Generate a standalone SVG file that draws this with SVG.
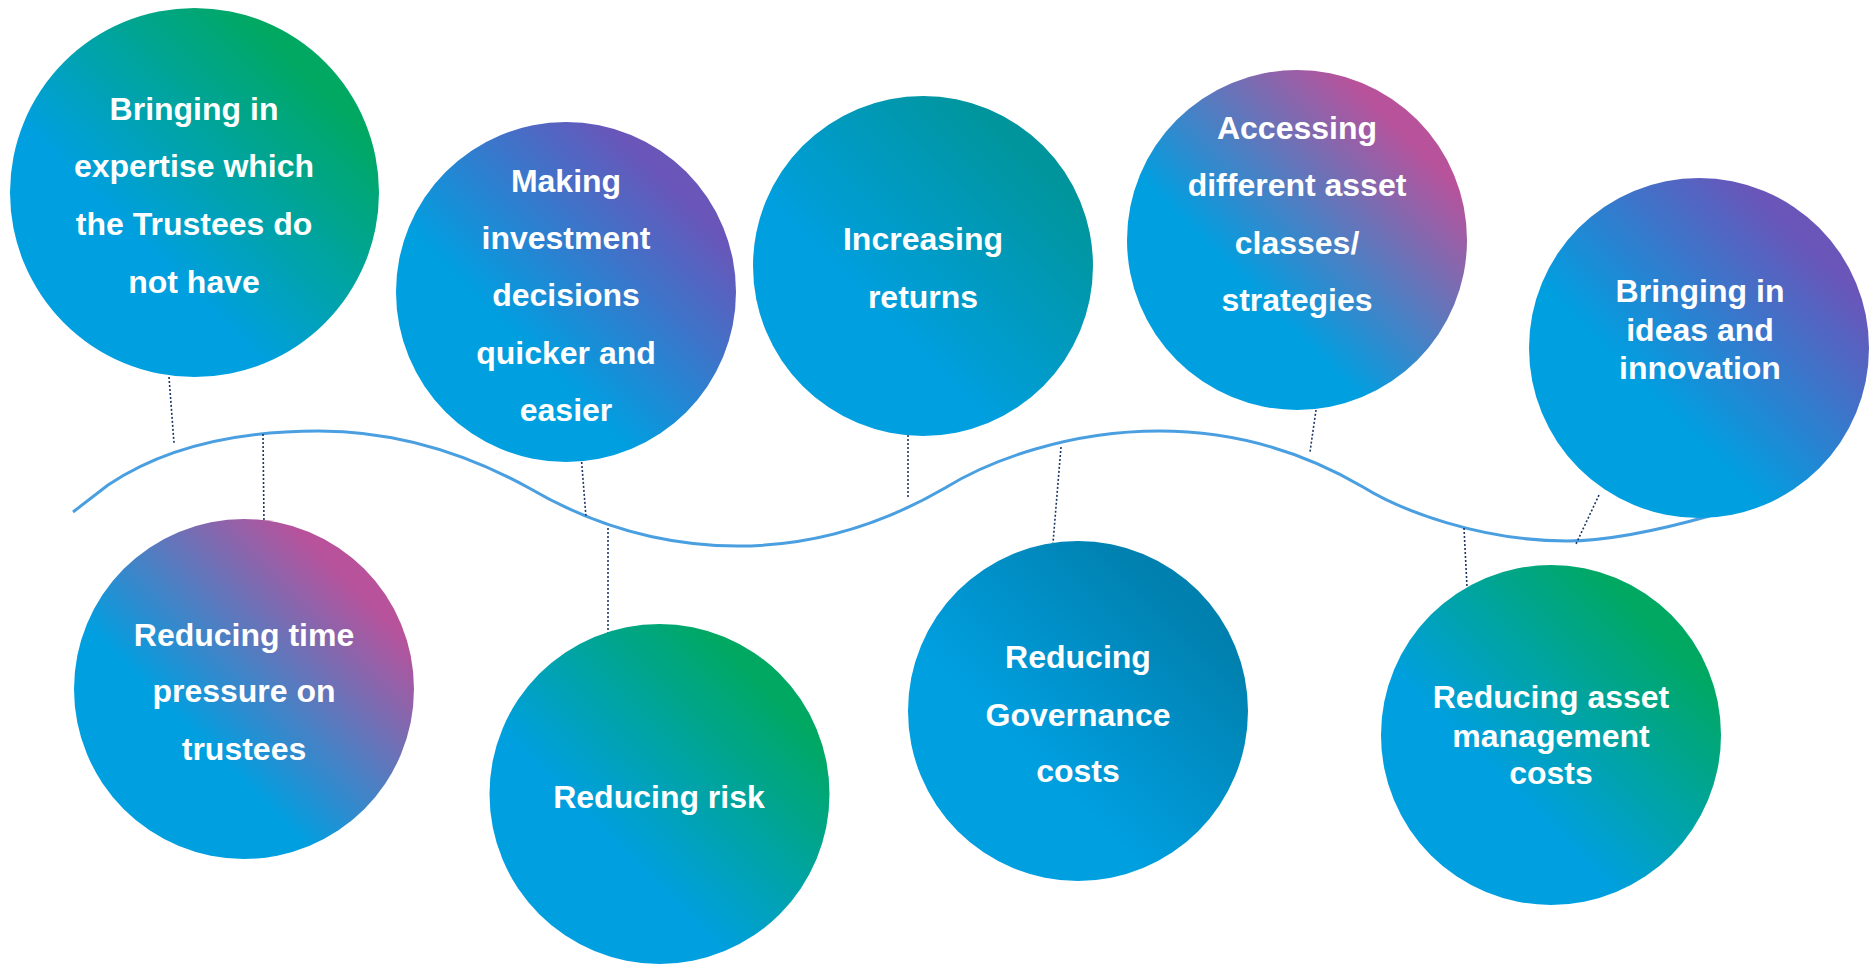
<svg xmlns="http://www.w3.org/2000/svg" width="1874" height="964" viewBox="0 0 1874 964">
<defs>
<linearGradient id="gGreen" x1="0.15" y1="0.85" x2="0.85" y2="0.15"><stop offset="0.3" stop-color="#009fe0"/><stop offset="0.95" stop-color="#00a862"/></linearGradient>
<linearGradient id="gPurple" x1="0.15" y1="0.85" x2="0.85" y2="0.15"><stop offset="0.3" stop-color="#009fe0"/><stop offset="0.95" stop-color="#6a55b9"/></linearGradient>
<linearGradient id="gMagenta" x1="0.15" y1="0.85" x2="0.85" y2="0.15"><stop offset="0.3" stop-color="#009fe0"/><stop offset="0.95" stop-color="#b7529b"/></linearGradient>
<linearGradient id="gTeal" x1="0.15" y1="0.85" x2="0.85" y2="0.15"><stop offset="0.3" stop-color="#009fe0"/><stop offset="0.95" stop-color="#00959d"/></linearGradient>
<linearGradient id="gDark" x1="0.15" y1="0.85" x2="0.85" y2="0.15"><stop offset="0.3" stop-color="#009fe0"/><stop offset="0.95" stop-color="#0080ae"/></linearGradient>
</defs>
<style>
.lbl{font-family:"Liberation Sans",Arial,sans-serif;font-weight:bold;font-size:32px;fill:#ffffff;text-anchor:middle}
.wave{fill:none;stroke:#4a9fe0;stroke-width:3}
.dot{fill:none;stroke:#1c3764;stroke-width:1.6;stroke-dasharray:2 2}
</style>
<rect width="1874" height="964" fill="#ffffff"/>
<g id="connectors">
<path class="wave" d="M73,512 L108,485 C160,450 230,431 319,431 C390,431 460,450 529,488 C570,512 640,546 738,546 C820,546 890,520 945,488 C990,460 1070,431 1159,431 C1230,431 1300,450 1363,487 C1400,510 1480,541 1567,541 C1610,541 1660,530 1713,515"/>
<line class="dot" x1="169" y1="377" x2="174" y2="443"/>
<line class="dot" x1="263" y1="434" x2="264" y2="525"/>
<line class="dot" x1="581" y1="454" x2="586" y2="517"/>
<line class="dot" x1="608" y1="528" x2="608" y2="642"/>
<line class="dot" x1="908" y1="435" x2="908" y2="497"/>
<line class="dot" x1="1061" y1="447" x2="1053" y2="543"/>
<line class="dot" x1="1316" y1="410" x2="1310" y2="452"/>
<line class="dot" x1="1464" y1="528" x2="1467" y2="587"/>
<line class="dot" x1="1599" y1="495" x2="1576" y2="544"/>
</g>
<g id="n1"><circle cx="194.5" cy="192.5" r="184.5" fill="url(#gGreen)"/>
<text class="lbl" x="194" y="120">Bringing in</text><text class="lbl" x="194" y="177">expertise which</text><text class="lbl" x="194" y="235">the Trustees do</text><text class="lbl" x="194" y="293">not have</text></g>
<g id="n2"><circle cx="566" cy="292" r="170" fill="url(#gPurple)"/>
<text class="lbl" x="566" y="192">Making</text><text class="lbl" x="566" y="249">investment</text><text class="lbl" x="566" y="306">decisions</text><text class="lbl" x="566" y="364">quicker and</text><text class="lbl" x="566" y="421">easier</text></g>
<g id="n3"><circle cx="923" cy="266" r="170" fill="url(#gTeal)"/>
<text class="lbl" x="923" y="250">Increasing</text><text class="lbl" x="923" y="308">returns</text></g>
<g id="n4"><circle cx="1297" cy="240" r="170" fill="url(#gMagenta)"/>
<text class="lbl" x="1297" y="139">Accessing</text><text class="lbl" x="1297" y="196">different asset</text><text class="lbl" x="1297" y="254">classes/</text><text class="lbl" x="1297" y="311">strategies</text></g>
<g id="n5"><circle cx="1699" cy="348" r="170" fill="url(#gPurple)"/>
<text class="lbl" x="1700" y="302">Bringing in</text><text class="lbl" x="1700" y="341">ideas and</text><text class="lbl" x="1700" y="379">innovation</text></g>
<g id="n6"><circle cx="244" cy="689" r="170" fill="url(#gMagenta)"/>
<text class="lbl" x="244" y="646">Reducing time</text><text class="lbl" x="244" y="702">pressure on</text><text class="lbl" x="244" y="760">trustees</text></g>
<g id="n7"><circle cx="659.5" cy="794" r="170" fill="url(#gGreen)"/>
<text class="lbl" x="659" y="808">Reducing risk</text></g>
<g id="n8"><circle cx="1078" cy="711" r="170" fill="url(#gDark)"/>
<text class="lbl" x="1078" y="668">Reducing</text><text class="lbl" x="1078" y="726">Governance</text><text class="lbl" x="1078" y="782">costs</text></g>
<g id="n9"><circle cx="1551" cy="735" r="170" fill="url(#gGreen)"/>
<text class="lbl" x="1551" y="708">Reducing asset</text><text class="lbl" x="1551" y="747">management</text><text class="lbl" x="1551" y="784">costs</text></g>
</svg>
